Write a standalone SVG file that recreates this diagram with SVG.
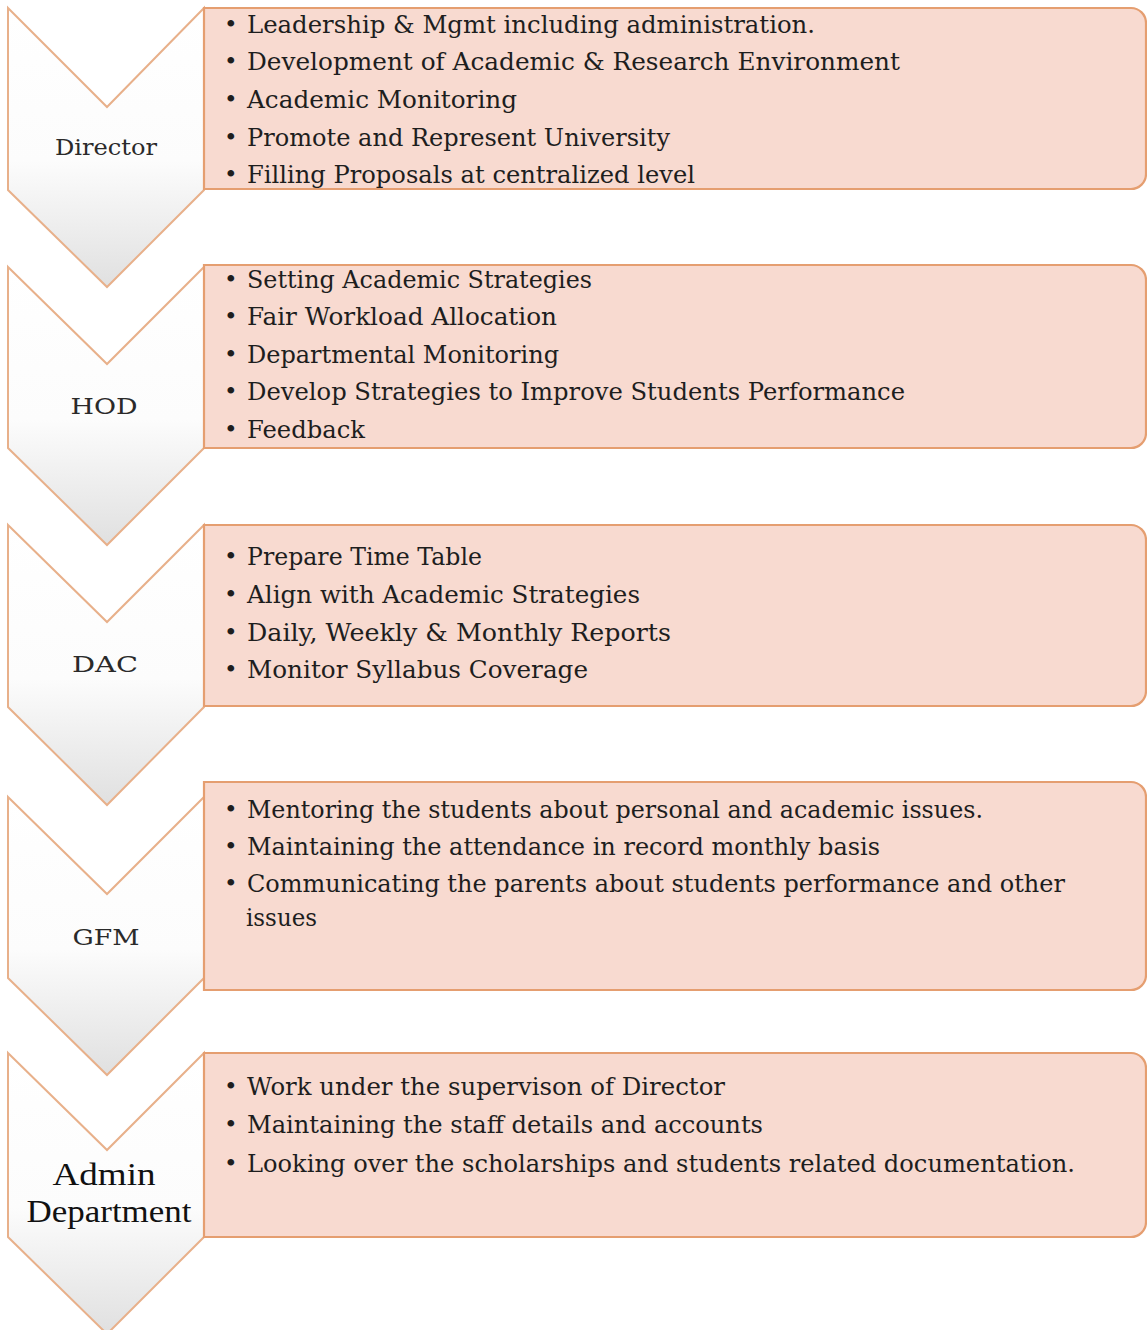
<svg xmlns="http://www.w3.org/2000/svg" width="1147" height="1330" viewBox="0 0 1147 1330">
  <defs>
    <linearGradient id="chev" x1="0" y1="0" x2="0" y2="1">
      <stop offset="0" stop-color="#ffffff"/>
      <stop offset="0.55" stop-color="#fcfcfc"/>
      <stop offset="1" stop-color="#e0e0e0"/>
    </linearGradient>
    <style>
      .chev { fill: url(#chev); stroke: #e8b08a; stroke-width: 2; stroke-linejoin: miter; }
      .box { fill: #f8dad0; stroke: #e59e70; stroke-width: 2.2; }
      .lbl { font-family: "DejaVu Serif", "Liberation Serif", serif; font-size: 23px; fill: #2a2a2a; text-anchor: middle; }
      .lbl2 { font-family: "Liberation Serif", "DejaVu Serif", serif; font-size: 31px; fill: #111; text-anchor: middle; }
      .t { font-family: "DejaVu Serif", "Liberation Serif", serif; font-size: 24.5px; fill: #1e1e1e; }
      .b { font-family: "DejaVu Serif", "Liberation Serif", serif; font-size: 23px; fill: #1e1e1e; }
    </style>
  </defs>
  <rect width="1147" height="1330" fill="#ffffff"/>

  <g id="director">
    <path class="chev" d="M8,8 L107,107 L204,8 L204,190 L107,287 L8,190 Z"/>
    <path class="box" d="M204,8 H1131 A15,15 0 0 1 1146,23 V174 A15,15 0 0 1 1131,189 H204 Z"/>
    <text class="lbl" x="106" y="155" textLength="102" lengthAdjust="spacingAndGlyphs">Director</text>
    <text class="b" x="224" y="32">•</text>
    <text class="b" x="224" y="69">•</text>
    <text class="b" x="224" y="107">•</text>
    <text class="b" x="224" y="145">•</text>
    <text class="b" x="224" y="182">•</text>
    <text class="t" x="247" y="33" textLength="568" lengthAdjust="spacingAndGlyphs">Leadership &amp; Mgmt including administration.</text>
    <text class="t" x="247" y="70" textLength="653" lengthAdjust="spacingAndGlyphs">Development of Academic &amp; Research Environment</text>
    <text class="t" x="247" y="108" textLength="270" lengthAdjust="spacingAndGlyphs">Academic Monitoring</text>
    <text class="t" x="247" y="146" textLength="423" lengthAdjust="spacingAndGlyphs">Promote and Represent University</text>
    <text class="t" x="247" y="183" textLength="448" lengthAdjust="spacingAndGlyphs">Filling Proposals at centralized level</text>
  </g>

  <g id="hod">
    <path class="chev" d="M8,267 L107,364 L204,267 L204,448 L107,545 L8,448 Z"/>
    <path class="box" d="M204,265 H1131 A15,15 0 0 1 1146,280 V433 A15,15 0 0 1 1131,448 H204 Z"/>
    <text class="lbl" x="104" y="414" textLength="67" lengthAdjust="spacingAndGlyphs">HOD</text>
    <text class="b" x="224" y="287">•</text>
    <text class="b" x="224" y="324">•</text>
    <text class="b" x="224" y="362">•</text>
    <text class="b" x="224" y="399">•</text>
    <text class="b" x="224" y="437">•</text>
    <text class="t" x="247" y="288" textLength="345" lengthAdjust="spacingAndGlyphs">Setting Academic Strategies</text>
    <text class="t" x="247" y="325" textLength="310" lengthAdjust="spacingAndGlyphs">Fair Workload Allocation</text>
    <text class="t" x="247" y="363" textLength="312" lengthAdjust="spacingAndGlyphs">Departmental Monitoring</text>
    <text class="t" x="247" y="400" textLength="658" lengthAdjust="spacingAndGlyphs">Develop Strategies to Improve Students Performance</text>
    <text class="t" x="247" y="438" textLength="118" lengthAdjust="spacingAndGlyphs">Feedback</text>
  </g>

  <g id="dac">
    <path class="chev" d="M8,525 L107,622 L204,525 L204,707 L107,805 L8,707 Z"/>
    <path class="box" d="M204,525 H1131 A15,15 0 0 1 1146,540 V691 A15,15 0 0 1 1131,706 H204 Z"/>
    <text class="lbl" x="105" y="672" textLength="66" lengthAdjust="spacingAndGlyphs">DAC</text>
    <text class="b" x="224" y="564">•</text>
    <text class="b" x="224" y="602">•</text>
    <text class="b" x="224" y="640">•</text>
    <text class="b" x="224" y="677">•</text>
    <text class="t" x="247" y="565" textLength="235" lengthAdjust="spacingAndGlyphs">Prepare Time Table</text>
    <text class="t" x="247" y="603" textLength="393" lengthAdjust="spacingAndGlyphs">Align with Academic Strategies</text>
    <text class="t" x="247" y="641" textLength="424" lengthAdjust="spacingAndGlyphs">Daily, Weekly &amp; Monthly Reports</text>
    <text class="t" x="247" y="678" textLength="341" lengthAdjust="spacingAndGlyphs">Monitor Syllabus  Coverage</text>
  </g>

  <g id="gfm">
    <path class="chev" d="M8,797 L107,894 L204,797 L204,978 L107,1075 L8,978 Z"/>
    <path class="box" d="M204,782 H1131 A15,15 0 0 1 1146,797 V975 A15,15 0 0 1 1131,990 H204 Z"/>
    <text class="lbl" x="106" y="945" textLength="67" lengthAdjust="spacingAndGlyphs">GFM</text>
    <text class="b" x="224" y="817">•</text>
    <text class="b" x="224" y="854">•</text>
    <text class="b" x="224" y="891">•</text>
    <text class="t" x="247" y="818" textLength="736" lengthAdjust="spacingAndGlyphs">Mentoring the students about personal and academic issues.</text>
    <text class="t" x="247" y="855" textLength="633" lengthAdjust="spacingAndGlyphs">Maintaining the attendance in record monthly basis</text>
    <text class="t" x="247" y="892" textLength="818" lengthAdjust="spacingAndGlyphs">Communicating the parents about students performance and other</text>
    <text class="t" x="246" y="926" textLength="71" lengthAdjust="spacingAndGlyphs">issues</text>
  </g>

  <g id="admin">
    <path class="chev" d="M8,1053 L107,1150 L204,1053 L204,1237 L107,1334 L8,1237 Z"/>
    <path class="box" d="M204,1053 H1131 A15,15 0 0 1 1146,1068 V1222 A15,15 0 0 1 1131,1237 H204 Z"/>
    <text class="lbl2" x="104" y="1185" textLength="103" lengthAdjust="spacingAndGlyphs">Admin</text>
    <text class="lbl2" x="109" y="1222" textLength="165" lengthAdjust="spacingAndGlyphs">Department</text>
    <text class="b" x="224" y="1094">•</text>
    <text class="b" x="224" y="1132">•</text>
    <text class="b" x="224" y="1171">•</text>
    <text class="t" x="247" y="1095" textLength="478" lengthAdjust="spacingAndGlyphs">Work under the supervison of Director</text>
    <text class="t" x="247" y="1133" textLength="516" lengthAdjust="spacingAndGlyphs">Maintaining the staff details and accounts</text>
    <text class="t" x="247" y="1172" textLength="828" lengthAdjust="spacingAndGlyphs">Looking over the scholarships and students related documentation.</text>
  </g>

  <g id="connectors"/>
</svg>
